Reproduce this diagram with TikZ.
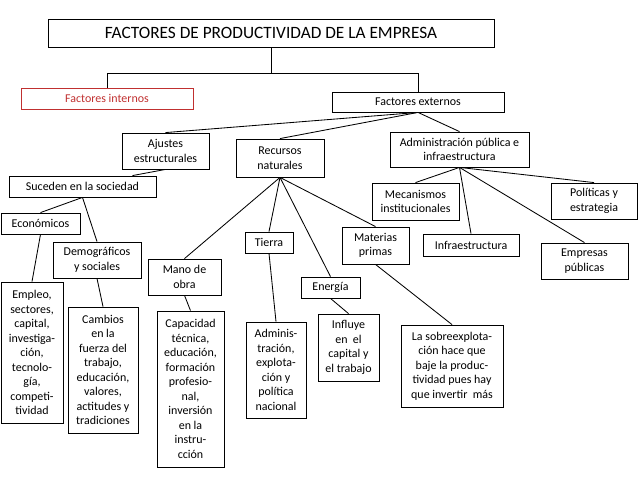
\documentclass[tikz,border=0pt]{standalone}
\usepackage{fontspec}
\setmainfont{Carlito}
\definecolor{intred}{RGB}{192,48,48}
\newcommand{\pu}{0.025cm}

\begin{document}
\begin{tikzpicture}[
  x=\pu, y=-\pu,
  every node/.style={font=\fontsize{8.5}{10.3}\selectfont},
  box/.style={draw, line width=0.6pt, inner sep=1pt, align=center},
  link/.style={line width=0.6pt}
]
\useasboundingbox (0,0) rectangle (638,479);

% top level
\node[box, minimum width=446*\pu, minimum height=28*\pu,
      font=\fontsize{12.3}{14}\selectfont] (title) at (271,33)
  {FACTORES DE PRODUCTIVIDAD DE LA EMPRESA};
\node[box, draw=intred, text=intred, minimum width=172*\pu, minimum height=21*\pu]
  (internos) at (107,98.5) {Factores internos};
\node[box, minimum width=172*\pu, minimum height=20*\pu] (externos) at (418,102)
  {Factores externos};

% second level
\node[box, minimum width=87*\pu, minimum height=36*\pu] (ajustes) at (165.5,151)
  {Ajustes\\estructurales};
\node[box, minimum width=88*\pu, minimum height=38*\pu] (recursos) at (280,158)
  {Recursos\\naturales};
\node[box, minimum width=139*\pu, minimum height=35*\pu] (admin) at (459.5,149.5)
  {Administración pública e\\infraestructura};

% ajustes branch
\node[box, minimum width=147*\pu, minimum height=21*\pu] (suceden) at (82.5,186.5)
  {Suceden en la sociedad};
\node[box, minimum width=79*\pu, minimum height=21*\pu] (economicos) at (40.5,223.5)
  {Económicos};
\node[box, minimum width=88*\pu, minimum height=36*\pu] (demog) at (97,260)
  {Demográficos\\y sociales};
\node[box, minimum width=62*\pu, minimum height=141*\pu] (empleo) at (32,352.5)
  {Empleo,\\sectores,\\capital,\\investiga-\\ción,\\tecnolo-\\gía,\\competi-\\tividad};
\node[box, minimum width=70*\pu, minimum height=126*\pu] (cambios) at (103,370)
  {Cambios\\en la\\fuerza del\\trabajo,\\educación,\\valores,\\actitudes y\\tradiciones};

% recursos branch
\node[box, minimum width=73*\pu, minimum height=36*\pu] (mano) at (184.5,277)
  {Mano de\\obra};
\node[box, minimum width=48*\pu, minimum height=21*\pu] (tierra) at (269,242.5)
  {Tierra};
\node[box, minimum width=59*\pu, minimum height=21*\pu] (energia) at (330.5,287.5)
  {Energía};
\node[box, minimum width=67*\pu, minimum height=37*\pu] (materias) at (375.5,245.5)
  {Materias\\primas};
\node[box, minimum width=67*\pu, minimum height=156*\pu] (capacidad) at (190.5,389)
  {Capacidad\\técnica,\\educación,\\formación\\profesio-\\nal,\\inversión\\en la\\instru-\\cción};
\node[box, minimum width=60*\pu, minimum height=96*\pu] (adminis) at (276,370)
  {Adminis-\\tración,\\explota-\\ción y\\política\\nacional};
\node[box, minimum width=61*\pu, minimum height=67*\pu] (influye) at (348.5,347.5)
  {Influye\\en~ el\\capital y\\el trabajo};
\node[box, minimum width=102*\pu, minimum height=82*\pu] (sobre) at (452,366)
  {La sobreexplota-\\ción hace que\\baje la produc-\\tividad pues hay\\que invertir~ más};

% admin branch
\node[box, minimum width=87*\pu, minimum height=37*\pu] (mecan) at (415.5,201.5)
  {Mecanismos\\institucionales};
\node[box, minimum width=96*\pu, minimum height=22*\pu] (infra) at (471,245)
  {Infraestructura};
\node[box, minimum width=86*\pu, minimum height=36*\pu] (politicas) at (594,201)
  {Políticas y\\estrategia};
\node[box, minimum width=87*\pu, minimum height=36*\pu] (empresas) at (584.5,261)
  {Empresas\\públicas};

% connectors
\draw[link] (title.south) -- ++(0,26) coordinate (split);
\draw[link] (internos.north) |- (split) -| (externos.north);

\draw[link] (externos.south) -- (ajustes.north);
\draw[link] (externos.south) -- (recursos.north);
\draw[link] (externos.south) -- (admin.north);

\draw[link] (ajustes.south) -- ([xshift=50*\pu]suceden.north);
\draw[link] (suceden.south) -- (economicos.north);
\draw[link] (suceden.south) -- (demog.north);
\draw[link] (economicos.south) -- (empleo.north);
\draw[link] (demog.south) -- (cambios.north);

\draw[link] (recursos.south) -- (mano.north);
\draw[link] (recursos.south) -- (tierra.north);
\draw[link] (recursos.south) -- (energia.north);
\draw[link] (recursos.south) -- (materias.north);
\draw[link] (mano.south) -- (capacidad.north);
\draw[link] (tierra.south) -- (adminis.north);
\draw[link] (energia.south) -- (influye.north);
\draw[link] (materias.south) -- (sobre.north);

\draw[link] (admin.south) -- (mecan.north);
\draw[link] (admin.south) -- (infra.north);
\draw[link] (admin.south) -- (politicas.north);
\draw[link] (admin.south) -- (empresas.north);

\end{tikzpicture}
\end{document}
